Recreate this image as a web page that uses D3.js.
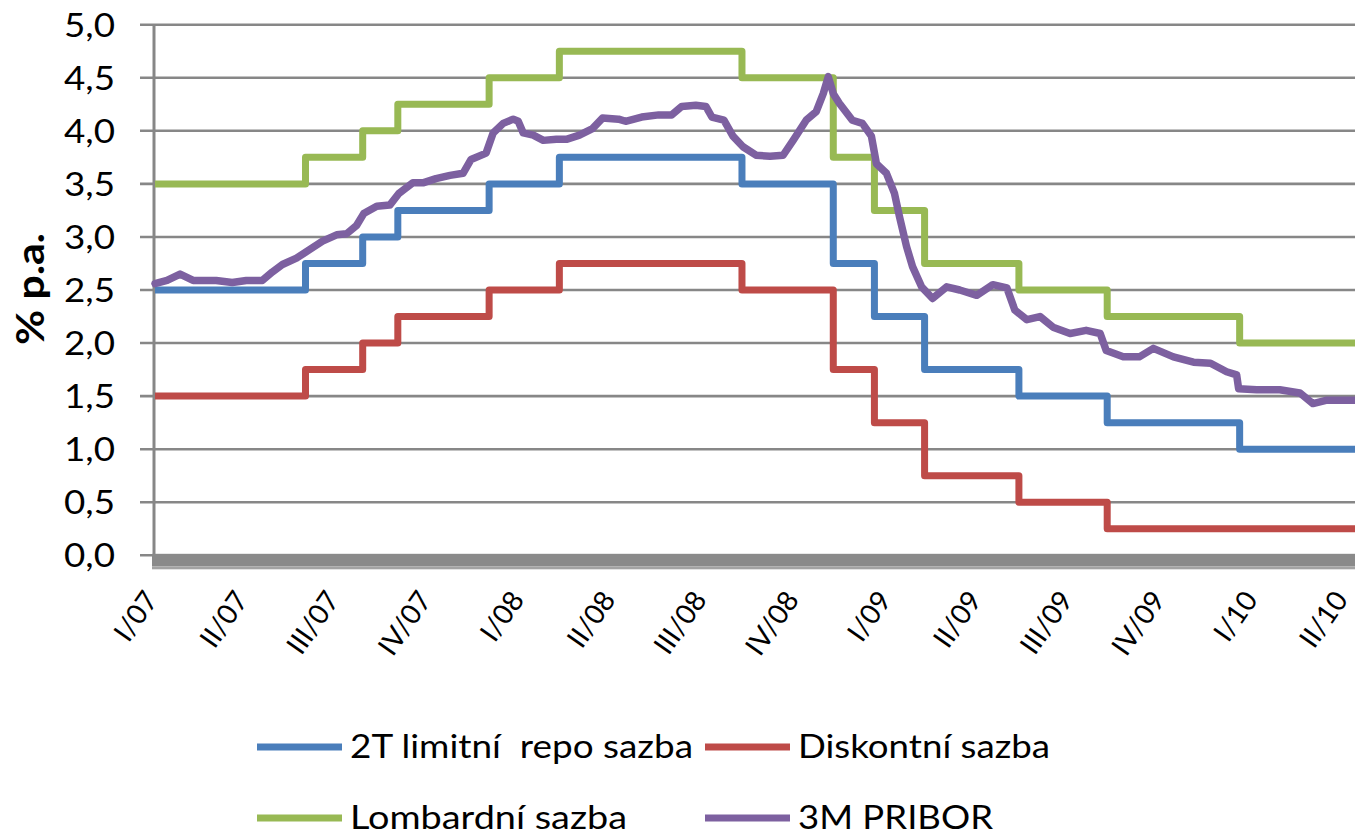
<!DOCTYPE html>
<html>
<head>
<meta charset="utf-8">
<script src="https://cdn.jsdelivr.net/npm/d3@7/dist/d3.min.js"></script>
<style>
   body { margin: 0; background: #fff; }
   text { font-family: Lato, 'Liberation Sans', sans-serif; fill: #000; }
</style>
</head>
<body>
<div class="render"></div>
<script>
'use strict';

// CNB rates, step changes
var rateDates = ['2007-01-01', '2007-05-31', '2007-07-27', '2007-08-31', '2007-11-30', '2008-02-08', '2008-08-08',
   '2008-11-07', '2008-12-18', '2009-02-06', '2009-05-11', '2009-08-07', '2009-12-17', '2010-04-20'];
var repo = [2.5, 2.75, 3.0, 3.25, 3.5, 3.75, 3.5, 2.75, 2.25, 1.75, 1.5, 1.25, 1.0, 1.0];
var discount = [1.5, 1.75, 2.0, 2.25, 2.5, 2.75, 2.5, 1.75, 1.25, 0.75, 0.5, 0.25, 0.25, 0.25];
var lombard = [3.5, 3.75, 4.0, 4.25, 4.5, 4.75, 4.5, 3.75, 3.25, 2.75, 2.5, 2.25, 2.0, 2.0];

// 3M PRIBOR
var priborDates = ['2007-01-01', '2007-01-13', '2007-01-26', '2007-02-08', '2007-03-03', '2007-03-19', '2007-04-02',
   '2007-04-18', '2007-04-28', '2007-05-08', '2007-05-22', '2007-06-04', '2007-06-17', '2007-07-01', '2007-07-11',
   '2007-07-21', '2007-07-28', '2007-08-10', '2007-08-23', '2007-09-01', '2007-09-15', '2007-09-25', '2007-10-08',
   '2007-10-22', '2007-11-04', '2007-11-12', '2007-11-27', '2007-12-04', '2007-12-14', '2007-12-24', '2007-12-29',
   '2008-01-03', '2008-01-13', '2008-01-23', '2008-02-05', '2008-02-15', '2008-02-28', '2008-03-12', '2008-03-22',
   '2008-04-07', '2008-04-14', '2008-04-30', '2008-05-17', '2008-05-30', '2008-06-09', '2008-06-23', '2008-07-03',
   '2008-07-09', '2008-07-21', '2008-07-30', '2008-08-09', '2008-08-22', '2008-09-05', '2008-09-18', '2008-09-28',
   '2008-10-11', '2008-10-21', '2008-10-28', '2008-11-02', '2008-11-07', '2008-11-13', '2008-11-26', '2008-12-06',
   '2008-12-15', '2008-12-20', '2008-12-30', '2009-01-07', '2009-01-12', '2009-01-19', '2009-01-25', '2009-02-03',
   '2009-02-14', '2009-02-28', '2009-03-13', '2009-03-30', '2009-04-15', '2009-04-29', '2009-05-07', '2009-05-19',
   '2009-06-01', '2009-06-14', '2009-07-01', '2009-07-17', '2009-07-31', '2009-08-06', '2009-08-23', '2009-09-08',
   '2009-09-22', '2009-10-12', '2009-11-01', '2009-11-18', '2009-12-04', '2009-12-14', '2009-12-16', '2010-01-03',
   '2010-01-26', '2010-02-15', '2010-02-28', '2010-03-13', '2010-04-12'];
var pribor = [2.56, 2.59, 2.65, 2.59, 2.59, 2.57, 2.59,
   2.59, 2.67, 2.74, 2.80, 2.88, 2.96, 3.02, 3.03,
   3.11, 3.22, 3.29, 3.30, 3.41, 3.51, 3.51, 3.55,
   3.58, 3.60, 3.73, 3.79, 3.98, 4.07, 4.11, 4.09,
   3.98, 3.96, 3.91, 3.92, 3.92, 3.96, 4.02, 4.12,
   4.11, 4.09, 4.13, 4.15, 4.15, 4.23, 4.24, 4.23,
   4.13, 4.10, 3.95, 3.85, 3.77, 3.76, 3.77, 3.91,
   4.10, 4.18, 4.35, 4.51, 4.35, 4.26, 4.10, 4.07,
   3.95, 3.69, 3.60, 3.41, 3.19, 2.91, 2.72, 2.53,
   2.42, 2.53, 2.50, 2.45, 2.55, 2.52, 2.31, 2.22,
   2.25, 2.15, 2.09, 2.12, 2.09, 1.93, 1.87, 1.87,
   1.95, 1.87, 1.82, 1.81, 1.73, 1.70, 1.57, 1.56,
   1.56, 1.53, 1.43, 1.46, 1.46];

var quarterDates = ['2007-01-01', '2007-04-01', '2007-07-01', '2007-10-01', '2008-01-01', '2008-04-01', '2008-07-01',
   '2008-10-01', '2009-01-01', '2009-04-01', '2009-07-01', '2009-10-01', '2010-01-01', '2010-04-01'];
var quarterLabels = ['I/07', 'II/07', 'III/07', 'IV/07', 'I/08', 'II/08', 'III/08',
   'IV/08', 'I/09', 'II/09', 'III/09', 'IV/09', 'I/10', 'II/10'];
var yTicks = [0, 0.5, 1, 1.5, 2, 2.5, 3, 3.5, 4, 4.5, 5];

var seriesNames = ['2T limitní  repo sazba', 'Diskontní sazba', 'Lombardní sazba', '3M PRIBOR'];
var colors = ['#4a7ebb', '#be4b48', '#98b954', '#7d60a0'];

var parse = d3.timeParse('%Y-%m-%d');

function draw() {
   var w = 1355;
   var h = 837;
   var gridColor = '#878787';
   var xScale = d3.scaleTime().domain([parse('2007-01-01'), parse('2010-04-01')]).range([155, 1345]);
   var yScale = d3.scaleLinear().domain([0, 5]).range([555.3, 24.7]);
   var svg = d3.select('.render').append('svg').attr('width', w).attr('height', h);

   // gridlines (they also work as the y ticks on the left)
   svg.selectAll('line.grid').data(yTicks).enter().append('line')
      .attr('class', 'grid')
      .attr('x1', 140).attr('x2', w)
      .attr('y1', function (d) { return yScale(d); })
      .attr('y2', function (d) { return yScale(d); })
      .attr('stroke', gridColor).attr('stroke-width', 2.6);

   svg.append('line').attr('x1', 154).attr('x2', 154).attr('y1', yScale(5)).attr('y2', yScale(0))
      .attr('stroke', gridColor).attr('stroke-width', 3);

   // thick floor of the x axis
   svg.append('rect').attr('x', 152).attr('y', yScale(0) - 1.5).attr('width', w - 152).attr('height', 12.5)
      .attr('fill', '#8a8a8a');
   svg.append('rect').attr('x', 152).attr('y', yScale(0) + 11).attr('width', w - 152).attr('height', 3)
      .attr('fill', '#a3a3a3');

   var fmt = function (d) { return d3.format('.1f')(d).replace('.', ','); };
   svg.selectAll('text.ylab').data(yTicks).enter().append('text')
      .attr('class', 'ylab')
      .attr('x', 115)
      .attr('y', function (d) { return yScale(d) + 12; })
      .attr('text-anchor', 'end')
      .attr('textLength', 51).attr('lengthAdjust', 'spacingAndGlyphs')
      .style('font-size', '32px')
      .text(fmt);

   svg.selectAll('text.xlab').data(quarterDates).enter().append('text')
      .attr('class', 'xlab')
      .attr('text-anchor', 'end')
      .attr('transform', function (d) {
         return 'translate(' + (xScale(parse(d)) + 4) + ',600)rotate(-55)';
      })
      .style('font-size', '28px')
      .text(function (d, i) { return quarterLabels[i]; });

   svg.append('text').text('% p.a.')
      .attr('transform', 'translate(44,289)rotate(-90)')
      .attr('text-anchor', 'middle')
      .attr('textLength', 112).attr('lengthAdjust', 'spacingAndGlyphs')
      .style('font-size', '38px').style('font-weight', 'bold');

   var step = d3.line()
      .x(function (d) { return xScale(d[0]); })
      .y(function (d) { return yScale(d[1]); })
      .curve(d3.curveStepAfter);
   var smooth = d3.line()
      .x(function (d) { return xScale(d[0]); })
      .y(function (d) { return yScale(d[1]); });

   var dates = rateDates.map(parse);
   var steps = [repo, discount, lombard];
   steps.forEach(function (vals, i) {
      svg.append('path')
         .datum(dates.map(function (d, j) { return [d, vals[j]]; }))
         .attr('d', step)
         .attr('fill', 'none').attr('stroke', colors[i]).attr('stroke-width', 7)
         .attr('stroke-linejoin', 'round');
   });

   svg.append('path')
      .datum(priborDates.map(function (d, j) { return [parse(d), pribor[j]]; }))
      .attr('d', smooth)
      .attr('fill', 'none').attr('stroke', colors[3]).attr('stroke-width', 7.5)
      .attr('stroke-linejoin', 'round').attr('stroke-linecap', 'round');

   // legend
   var legendLen = [343, 252, 277, 195];
   var leg = svg.selectAll('g.legend').data(seriesNames).enter().append('g')
      .attr('class', 'legend')
      .attr('transform', function (d, i) {
         return 'translate(' + (i % 2 === 0 ? 257 : 705) + ',' + (i < 2 ? 747 : 818) + ')';
      });
   leg.append('line').attr('x1', 0).attr('x2', 85).attr('y1', 0).attr('y2', 0)
      .attr('stroke', function (d, i) { return colors[i]; }).attr('stroke-width', 7);
   leg.append('text')
      .attr('x', 93).attr('y', 11)
      .attr('textLength', function (d, i) { return legendLen[i]; })
      .attr('lengthAdjust', 'spacingAndGlyphs')
      .style('font-size', '32px').style('white-space', 'pre')
      .text(function (d) { return d; });
}

draw();
</script>
</body>
</html>
